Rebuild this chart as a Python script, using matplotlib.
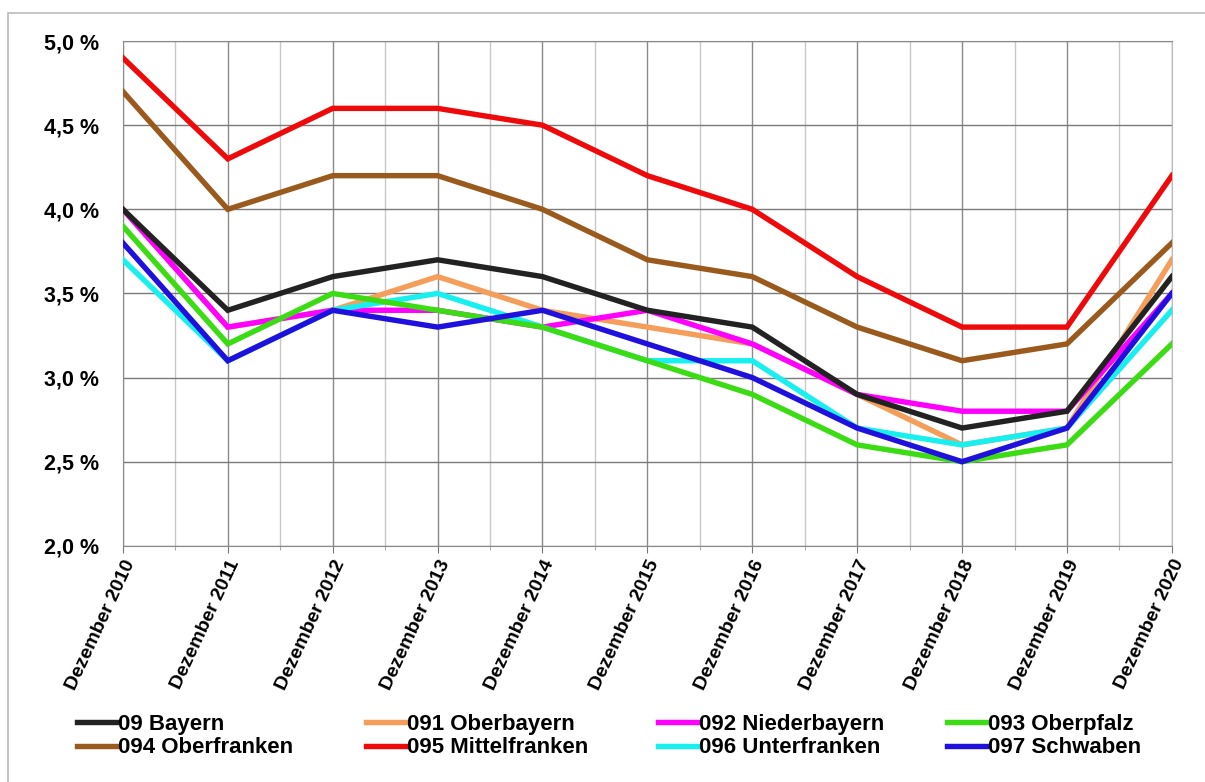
import matplotlib
matplotlib.use('Agg')
from matplotlib import pyplot as plt
from matplotlib.patches import Rectangle
import numpy as np

plt.rcParams['font.family'] = ['Liberation Sans', 'DejaVu Sans']

jahre = ['Dezember 2010', 'Dezember 2011', 'Dezember 2012', 'Dezember 2013',
         'Dezember 2014', 'Dezember 2015', 'Dezember 2016', 'Dezember 2017',
         'Dezember 2018', 'Dezember 2019', 'Dezember 2020']

bayern = [4.0, 3.4, 3.6, 3.7, 3.6, 3.4, 3.3, 2.9, 2.7, 2.8, 3.6]
oberbayern = [4.0, 3.3, 3.4, 3.6, 3.4, 3.3, 3.2, 2.9, 2.6, 2.7, 3.7]
niederbayern = [4.0, 3.3, 3.4, 3.4, 3.3, 3.4, 3.2, 2.9, 2.8, 2.8, 3.5]
oberpfalz = [3.9, 3.2, 3.5, 3.4, 3.3, 3.1, 2.9, 2.6, 2.5, 2.6, 3.2]
oberfranken = [4.7, 4.0, 4.2, 4.2, 4.0, 3.7, 3.6, 3.3, 3.1, 3.2, 3.8]
mittelfranken = [4.9, 4.3, 4.6, 4.6, 4.5, 4.2, 4.0, 3.6, 3.3, 3.3, 4.2]
unterfranken = [3.7, 3.1, 3.4, 3.5, 3.3, 3.1, 3.1, 2.7, 2.6, 2.7, 3.4]
schwaben = [3.8, 3.1, 3.4, 3.3, 3.4, 3.2, 3.0, 2.7, 2.5, 2.7, 3.5]

namen = ['09 Bayern', '091 Oberbayern', '092 Niederbayern', '093 Oberpfalz',
         '094 Oberfranken', '095 Mittelfranken', '096 Unterfranken', '097 Schwaben']
farben = ['#222222', '#F59E5C', '#FF00FF', '#3CDC14',
          '#9A5A1E', '#EE0A0A', '#18F0F0', '#2010DD']
reihen = [bayern, oberbayern, niederbayern, oberpfalz,
          oberfranken, mittelfranken, unterfranken, schwaben]

fig = plt.figure(figsize=(12.05, 7.82), dpi=100)
ax = fig.add_axes([0.102, 0.302, 0.8705, 0.6455])

# Rahmen um die Grafik
fig.patches.append(Rectangle((8 / 1205, -0.1), 1.2, 1 - 13 / 782 + 0.1,
                             transform=fig.transFigure, fill=False,
                             edgecolor='#BBBBBB', linewidth=1.2))

x = np.arange(len(jahre))
# Zeichenreihenfolge: rot und braun hinten, blau vorne
zorder = [6, 4, 5, 6, 3, 3, 5, 7]
linien = []
for name, werte, farbe, z in zip(namen, reihen, farben, zorder):
    l, = ax.plot(x, werte, color=farbe, linewidth=3.9, label=name, zorder=z,
                 solid_joinstyle='miter')
    linien.append(l)

ax.set_xlim(0, len(jahre) - 1)
ax.set_ylim(2.0, 5.0)
ax.set_yticks(np.arange(2.0, 5.01, 0.5))
ax.set_yticklabels([('%.1f %%' % v).replace('.', ',') for v in np.arange(2.0, 5.01, 0.5)],
                   fontsize=15.5, fontweight='bold')
ax.set_xticks(x)
ax.set_xticks(x[:-1] + 0.5, minor=True)
ax.set_xticklabels(jahre, rotation=65, ha='right', rotation_mode='anchor',
                   fontsize=14, fontweight='bold')
ax.tick_params(axis='y', length=0, pad=17)
ax.tick_params(axis='x', which='major', length=5, color='#777777', pad=3)
ax.tick_params(axis='x', which='minor', length=3, color='#999999')

ax.grid(True, axis='y', color='#7A7A7A', linewidth=1.0)
ax.grid(True, axis='x', which='major', color='#8A8A8A', linewidth=1.0)
ax.grid(True, axis='x', which='minor', color='#C8C8C8', linewidth=1.0)
ax.set_axisbelow(True)
for s in ['top', 'bottom', 'left']:
    ax.spines[s].set_color('#8A8A8A')
ax.spines['right'].set_color('#BBBBBB')

# Legende: vier Spalten mit festen Positionen, zeilenweise wie im Original
spalten_x = [77, 366, 658, 947]
for k, sx in enumerate(spalten_x):
    idx = [k, k + 4]
    lg = fig.legend([linien[i] for i in idx], [namen[i] for i in idx],
                    loc='center left', bbox_to_anchor=(sx / 1205, 1 - 736 / 782),
                    frameon=False, handlelength=1.75, handletextpad=0.1,
                    borderpad=0, borderaxespad=0, labelspacing=0.12,
                    prop={'weight': 'bold', 'size': 16})

fig.savefig('out.png', dpi=100)
